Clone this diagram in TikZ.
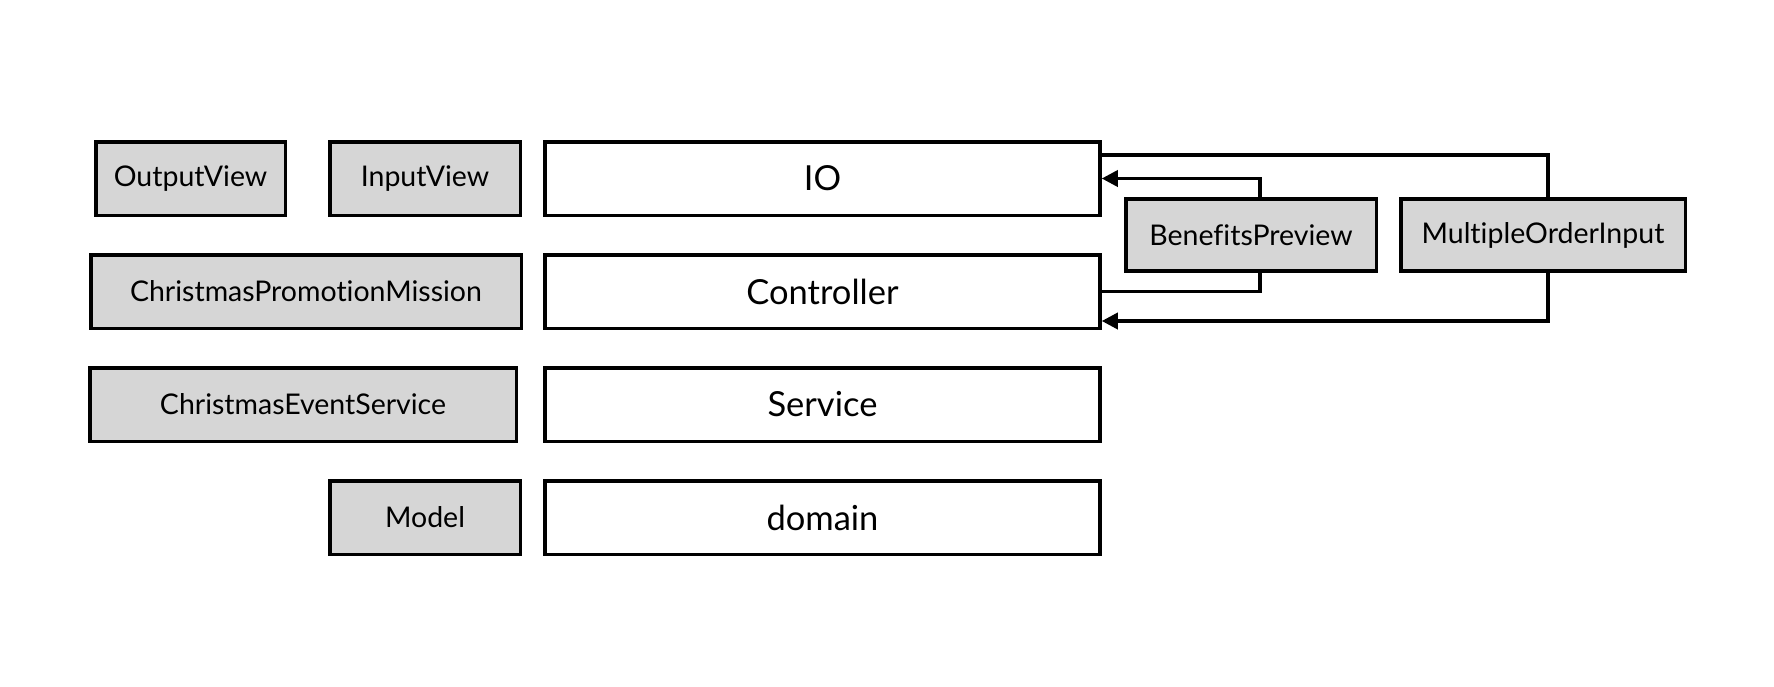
\documentclass[tikz,border=0pt]{standalone}
\usepackage{fontspec}
\setmainfont[Ligatures={NoCommon}]{Lato}
\usetikzlibrary{arrows.meta,calc}
\definecolor{boxgray}{HTML}{D6D6D6}
\begin{document}
\begin{tikzpicture}[x=1pt,y=1pt,
  base/.style={draw=black,line width=3.5pt,rectangle,inner sep=0pt,minimum height=73.5pt},
  grey/.style={base,fill=boxgray,font=\fontsize{28.5}{32}\selectfont},
  layer/.style={base,fill=white,minimum width=555pt,font=\fontsize{34.5}{38}\selectfont},
  conn/.style={line width=3.5pt},
  arr/.style={conn,-{Triangle[length=16pt,width=16pt]}}]
\useasboundingbox (0,0) rectangle (1774,-686);
\node[grey,minimum width=189.5pt] (ov) at (190.5,-178.5) {OutputView};
\node[grey,minimum width=190.5pt] (iv) at (425,-178.5) {InputView};
\node[layer] (io) at (822.5,-178.5) {IO};
\node[grey,minimum width=430.5pt] (cpm) at (306,-291.5) {ChristmasPromotionMission};
\node[layer] (ctrl) at (822.5,-291.5) {Controller};
\node[grey,minimum width=426.5pt] (ces) at (303,-404.5) {ChristmasEventService};
\node[layer] (svc) at (822.5,-404.5) {Service};
\node[grey,minimum width=190.5pt] (model) at (425,-517.5) {Model};
\node[layer] (dom) at (822.5,-517.5) {domain};
\node[grey,minimum width=250.5pt,minimum height=72pt] (bp) at (1251,-235) {BenefitsPreview};
\node[grey,minimum width=284.5pt,minimum height=72pt] (moi) at (1543,-235) {MultipleOrderInput};
\draw[conn] ([xshift=5pt]moi.north) |- ([yshift=23.5pt]io.east);
\draw[arr] ([xshift=9pt]bp.north) |- (io.east);
\draw[conn] ([xshift=9pt]bp.south) |- (ctrl.east);
\draw[arr] ([xshift=5pt]moi.south) |- ([yshift=-29.5pt]ctrl.east);
\end{tikzpicture}
\end{document}
